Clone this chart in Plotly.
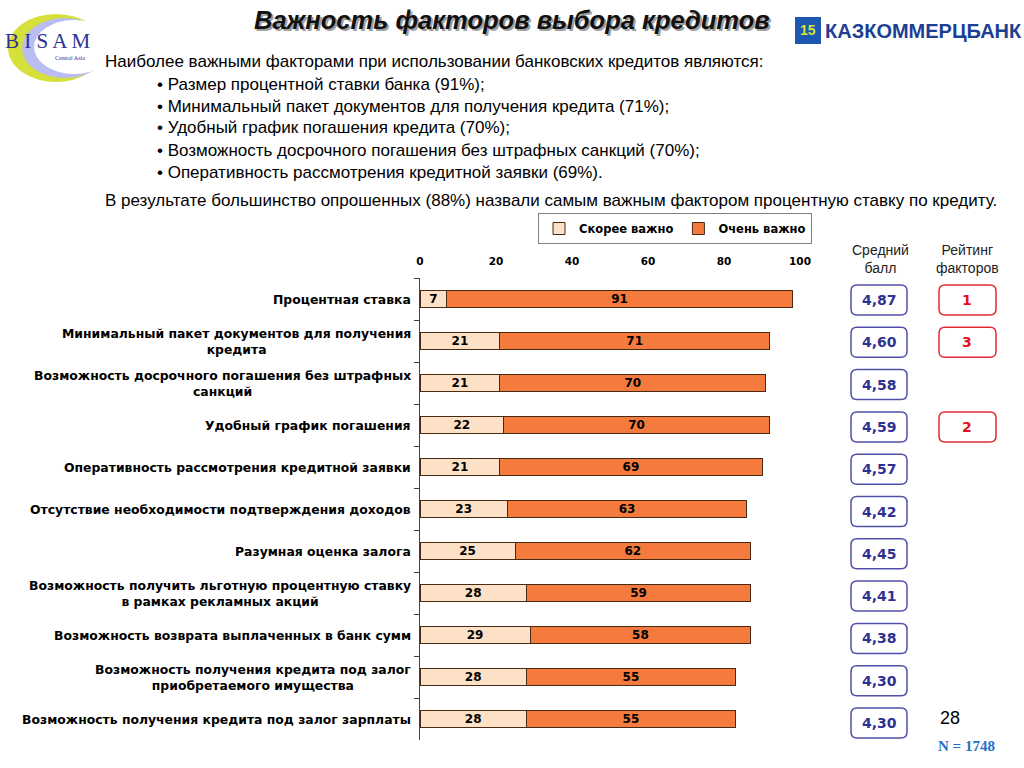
import plotly.graph_objects as go

# ---------------- data ----------------
categories = [
    "Процентная ставка",
    "Минимальный пакет документов для получения<br>кредита",
    "Возможность досрочного погашения без штрафных<br>санкций",
    "Удобный график погашения",
    "Оперативность рассмотрения кредитной заявки",
    "Отсутствие необходимости подтверждения доходов",
    "Разумная оценка залога",
    "Возможность получить льготную процентную ставку<br>в рамках рекламных акций",
    "Возможность возврата выплаченных в банк сумм",
    "Возможность получения кредита под залог<br>приобретаемого имущества",
    "Возможность получения кредита под залог зарплаты",
]
somewhat_important = [7, 21, 21, 22, 21, 23, 25, 28, 29, 28, 28]
very_important = [91, 71, 70, 70, 69, 63, 62, 59, 58, 55, 55]
mean_scores = ["4,87", "4,60", "4,58", "4,59", "4,57", "4,42", "4,45", "4,41", "4,38", "4,30", "4,30"]
ratings = ["1", "3", "", "2", "", "", "", "", "", "", ""]
x_ticks = [0, 20, 40, 60, 80, 100]
series_names = ["Скорее важно", "Очень важно"]

title_text = "Важность факторов выбора кредитов"
intro_text = "Наиболее важными факторами при использовании банковских кредитов являются:"
bullets = [
    "• Размер процентной ставки банка (91%);",
    "• Минимальный пакет документов для получения кредита (71%);",
    "• Удобный график погашения кредита (70%);",
    "• Возможность досрочного погашения без штрафных санкций (70%);",
    "• Оперативность рассмотрения кредитной заявки (69%).",
]
result_text = "В результате большинство опрошенных (88%) назвали самым важным фактором процентную ставку по кредиту."

# ---------------- helpers ----------------
W, H = 1024, 768


def px(x):
    return x / W


def py(y):
    return 1 - y / H


def rrect(x0, y0, x1, y1, r):
    pts = [
        ("M", [(x0 + r, y0)]),
        ("L", [(x1 - r, y0)]),
        ("Q", [(x1, y0), (x1, y0 + r)]),
        ("L", [(x1, y1 - r)]),
        ("Q", [(x1, y1), (x1 - r, y1)]),
        ("L", [(x0 + r, y1)]),
        ("Q", [(x0, y1), (x0, y1 - r)]),
        ("L", [(x0, y0 + r)]),
        ("Q", [(x0, y0), (x0 + r, y0)]),
    ]
    s = ""
    for cmd, ps in pts:
        s += cmd + " " + " ".join(f"{px(a):.5f},{py(b):.5f}" for a, b in ps) + " "
    return s + "Z"


BOLD = "DejaVu Sans"
SANS = "Liberation Sans, Arial"

fig = go.Figure()
for vals, name, col in [(somewhat_important, series_names[0], "#fde1c6"),
                        (very_important, series_names[1], "#f47b3d")]:
    fig.add_trace(go.Bar(
        y=categories, x=vals, orientation="h", name=name,
        marker=dict(color=col, line=dict(color="#4a2a12", width=1)),
        text=vals, textposition="inside", insidetextanchor="middle",
        constraintext="none", textangle=0,
        textfont=dict(family=BOLD, size=12, color="black", weight="bold"),
        width=0.42,
    ))

fig.update_layout(
    width=W, height=H, barmode="stack",
    margin=dict(l=0, r=0, t=0, b=0, autoexpand=False),
    paper_bgcolor="white", plot_bgcolor="white",
    showlegend=True,
    legend=dict(
        orientation="h", x=px(812), xanchor="right", y=py(213), yanchor="top",
        bordercolor="#7f7f7f", borderwidth=1, bgcolor="white",
        font=dict(family=BOLD, size=11.5, color="black", weight="bold"),
        traceorder="normal", itemwidth=30,
    ),
    xaxis=dict(
        domain=[px(420), px(800)], range=[0, 100], side="top", automargin=False,
        tickmode="array", tickvals=x_ticks, ticks="outside", ticklen=8,
        tickcolor="rgba(0,0,0,0)", showgrid=False, zeroline=False, showline=False,
        tickfont=dict(family=BOLD, size=10.5, color="black", weight="bold"),
        fixedrange=True,
    ),
    yaxis=dict(
        domain=[py(740), py(278)], autorange="reversed", automargin=False,
        showticklabels=False, ticks="outside", ticklen=5, tickson="boundaries",
        tickcolor="#404040", showline=True, linecolor="#404040", linewidth=1,
        showgrid=False, zeroline=False, fixedrange=True,
    ),
)

shapes = []
annotations = []


def note(x, y, text, font, xanchor="center", yanchor="middle", align="center", **kw):
    annotations.append(dict(x=px(x), y=py(y), xref="paper", yref="paper", text=text, showarrow=False,
                            xanchor=xanchor, yanchor=yanchor, align=align, font=font, **kw))


# category labels (centered multi-line, right anchored)
for c in categories:
    annotations.append(dict(
        x=px(413), xref="paper", xanchor="right", y=c, yref="y", yanchor="middle",
        text=c, showarrow=False, align="center",
        font=dict(family=BOLD, size=12.4, color="black", weight="bold"),
    ))

# title with shadow
note(514, 22, f"<b><i>{title_text}</i></b>", dict(family=SANS, size=25.5, color="#a0a0a0"))
note(512, 20, f"<b><i>{title_text}</i></b>", dict(family=SANS, size=25.5, color="#111111"))

# body text
body_font = dict(family=SANS, size=17, color="black")
note(103, 62, intro_text, body_font, xanchor="left")
for i, b in enumerate(bullets):
    note(155, 84 + 22 * i, b, body_font, xanchor="left")
note(103, 200, result_text, body_font, xanchor="left")

# column headers
hdr_font = dict(family=SANS, size=14, color="#222222")
note(880, 259, "Средний<br>балл", hdr_font)
note(967, 259, "Рейтинг<br>факторов", hdr_font)

# score and rating boxes
for i, (m, r) in enumerate(zip(mean_scores, ratings)):
    cy = 300 + i * 42.3
    shapes.append(dict(type="path", path=rrect(851, cy - 15, 907, cy + 15, 6), xref="paper", yref="paper",
                       line=dict(color="#5050a8", width=1.5), fillcolor="white"))
    note(879, cy, m, dict(family=BOLD, size=14, color="#2e3192", weight="bold"))
    if r:
        shapes.append(dict(type="path", path=rrect(939, cy - 15, 996, cy + 15, 6), xref="paper", yref="paper",
                           line=dict(color="#e02a30", width=1.5), fillcolor="white"))
        note(967, cy, r, dict(family=BOLD, size=14, color="#e3101c", weight="bold"))

# page number and N
note(950, 718, "28", dict(family=SANS, size=18, color="black"))
note(966, 746, "<b>N = 1748</b>", dict(family="Liberation Serif, Times New Roman", size=15, color="#1f73c4"))

# BISAM logo
shapes.append(dict(type="circle", xref="paper", yref="paper", x0=px(8), x1=px(104), y0=py(14), y1=py(82),
                   fillcolor="#d6e03a", line=dict(width=0)))
shapes.append(dict(type="circle", xref="paper", yref="paper", x0=px(22), x1=px(108), y0=py(18), y1=py(78),
                   fillcolor="#b9bdf2", line=dict(width=0)))
shapes.append(dict(type="circle", xref="paper", yref="paper", x0=px(34), x1=px(114), y0=py(20), y1=py(74),
                   fillcolor="white", line=dict(width=0)))
note(48, 41, "B I S A M", dict(family="Liberation Serif, Times New Roman", size=21, color="#2e3192"))
note(70, 58, "Central Asia", dict(family="Liberation Serif", size=6, color="#2e3192"))

# Kazkommertsbank logo
shapes.append(dict(type="rect", xref="paper", yref="paper", x0=px(795), x1=px(821), y0=py(17), y1=py(44),
                   fillcolor="#1c57b0", line=dict(width=0)))
note(808, 30, "<b>15</b>", dict(family=SANS, size=14, color="#d8e23a"))
note(823, 31, "<b>КАЗКОММЕРЦБАНК</b>", dict(family=SANS, size=20, color="#1c3f94"), xanchor="left")

fig.update_layout(shapes=shapes, annotations=annotations)
fig.write_html("out.html", config={"displayModeBar": False},
               post_script="document.body.style.margin='0';")
